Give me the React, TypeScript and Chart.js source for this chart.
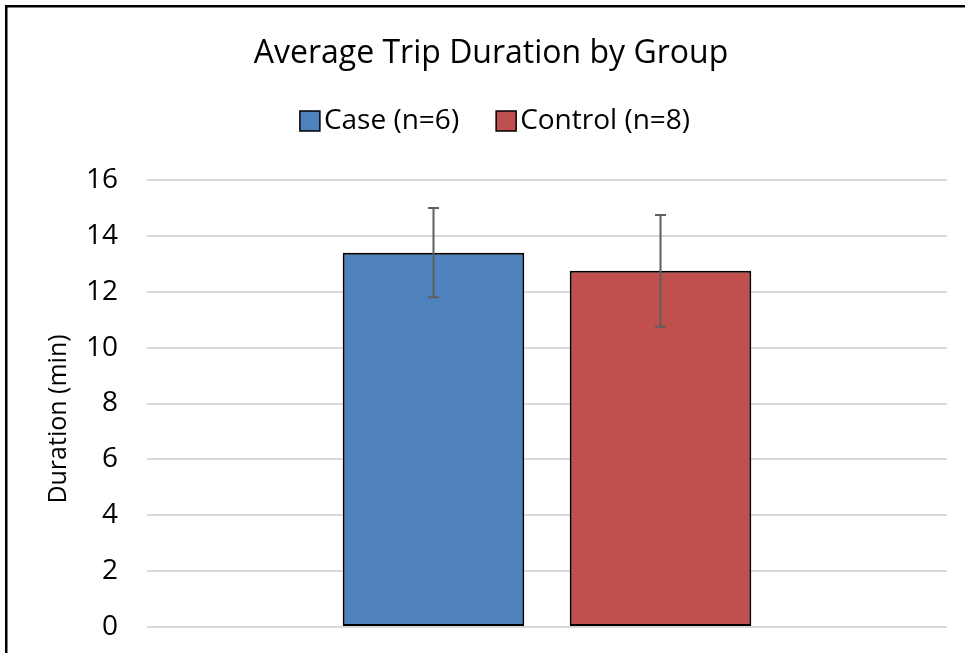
import React, { useEffect, useRef } from "react";
import { Chart, registerables } from "chart.js";

Chart.register(...registerables);

const categories = ["Trip Duration"];
const seriesLabels = ["Case (n=6)", "Control (n=8)"];
const caseMeans = [13.4];
const controlMeans = [12.75];
const caseErrors = [1.6];
const controlErrors = [2.0];
const yTicks = [0, 2, 4, 6, 8, 10, 12, 14, 16];
const seriesColors = ["#4F81BD", "#C0504D"];
const chartTitle = "Average Trip Duration by Group";
const yAxisTitle = "Duration (min)";

const FONT = "'Open Sans', 'Noto Sans', sans-serif";

const framePlugin = {
  id: "frame",
  beforeDraw(chart: any) {
    const ctx = chart.ctx;
    ctx.save();
    ctx.fillStyle = "#ffffff";
    ctx.fillRect(0, 0, chart.width, chart.height);
    ctx.strokeStyle = "#000000";
    ctx.lineWidth = 2.5;
    ctx.strokeRect(6.25, 6.25, chart.width + 100, chart.height + 100);
    ctx.restore();
  },
};

const errorBarPlugin = {
  id: "errorBars",
  afterDatasetsDraw(chart: any) {
    const ctx = chart.ctx;
    const yScale = chart.scales.y;
    const errs = [caseErrors, controlErrors];
    ctx.save();
    ctx.strokeStyle = "#5f5f5f";
    ctx.lineWidth = 2;
    chart.data.datasets.forEach((ds: any, i: number) => {
      const meta = chart.getDatasetMeta(i);
      meta.data.forEach((el: any, j: number) => {
        const v = ds.data[j];
        const e = errs[i][j];
        const x = el.x;
        const yTop = yScale.getPixelForValue(v + e);
        const yBot = yScale.getPixelForValue(v - e);
        ctx.beginPath();
        ctx.moveTo(x, yTop);
        ctx.lineTo(x, yBot);
        ctx.moveTo(x - 5.5, yTop);
        ctx.lineTo(x + 5.5, yTop);
        ctx.moveTo(x - 5.5, yBot);
        ctx.lineTo(x + 5.5, yBot);
        ctx.stroke();
      });
    });
    ctx.restore();
  },
};

const legendPlugin = {
  id: "customLegend",
  afterDraw(chart: any) {
    const ctx = chart.ctx;
    ctx.save();
    ctx.font = `28px ${FONT}`;
    ctx.textBaseline = "middle";
    ctx.textAlign = "left";
    const box = 20;
    const gap = 4;
    const spacing = 37;
    const items = chart.data.datasets.map((ds: any) => ({
      label: ds.label,
      color: ds.backgroundColor,
      w: ctx.measureText(ds.label).width,
    }));
    const total =
      items.reduce((s: number, it: any) => s + box + gap + it.w, 0) +
      spacing * (items.length - 1);
    let x = 495 - total / 2;
    const cy = 121;
    items.forEach((it: any) => {
      ctx.fillStyle = it.color;
      ctx.fillRect(x, cy - box / 2, box, box);
      ctx.strokeStyle = "#000000";
      ctx.lineWidth = 1.5;
      ctx.strokeRect(x, cy - box / 2, box, box);
      ctx.fillStyle = "#000000";
      ctx.fillText(it.label, x + box + gap, cy);
      x += box + gap + it.w + spacing;
    });
    ctx.restore();
  },
};

const yTitlePlugin = {
  id: "yTitle",
  afterDraw(chart: any) {
    const ctx = chart.ctx;
    ctx.save();
    ctx.translate(59, 419);
    ctx.rotate(-Math.PI / 2);
    ctx.font = `25px ${FONT}`;
    ctx.fillStyle = "#000000";
    ctx.textAlign = "center";
    ctx.textBaseline = "middle";
    ctx.fillText(yAxisTitle, 0, 0);
    ctx.restore();
  },
};

export default function App() {
  const ref = useRef<HTMLCanvasElement | null>(null);

  useEffect(() => {
    document.body.style.margin = "0";
    const canvas = ref.current;
    if (!canvas) return;
    const chart = new Chart(canvas, {
      type: "bar",
      data: {
        labels: categories,
        datasets: [
          {
            label: seriesLabels[0],
            data: caseMeans,
            backgroundColor: seriesColors[0],
            borderColor: "#000000",
            borderWidth: 2,
            borderSkipped: false,
          },
          {
            label: seriesLabels[1],
            data: controlMeans,
            backgroundColor: seriesColors[1],
            borderColor: "#000000",
            borderWidth: 2,
            borderSkipped: false,
          },
        ],
      },
      options: {
        animation: false,
        responsive: false,
        devicePixelRatio: 1,
        layout: { padding: { left: 35, right: 18, top: 0, bottom: 26 } },
        datasets: {
          bar: { categoryPercentage: 0.5675, barPercentage: 0.8 },
        },
        plugins: {
          legend: { display: false },
          tooltip: { enabled: false },
          title: {
            display: true,
            text: chartTitle,
            color: "#000000",
            font: { family: FONT, size: 32, weight: "normal", lineHeight: 1.2 },
            padding: { top: 35, bottom: 106.6 },
          },
        },
        scales: {
          x: { display: false },
          y: {
            min: 0,
            max: 16,
            afterBuildTicks: (s: any) => {
              s.ticks = yTicks.map((v) => ({ value: v }));
            },
            afterFit: (s: any) => {
              s.width = 112;
            },
            border: { display: false },
            grid: {
              color: "#D9D9D9",
              lineWidth: 2,
              drawTicks: true,
              tickLength: 29,
              tickColor: "rgba(0,0,0,0)",
            },
            ticks: {
              color: "#000000",
              padding: 0,
              font: { family: FONT, size: 28 },
            },
          },
        },
      },
      plugins: [framePlugin, errorBarPlugin, legendPlugin, yTitlePlugin],
    });
    return () => chart.destroy();
  }, []);

  return (
    <div style={{ width: 965, height: 653, position: "relative" }}>
      <canvas ref={ref} width={965} height={653} style={{ display: "block" }} />
    </div>
  );
}
